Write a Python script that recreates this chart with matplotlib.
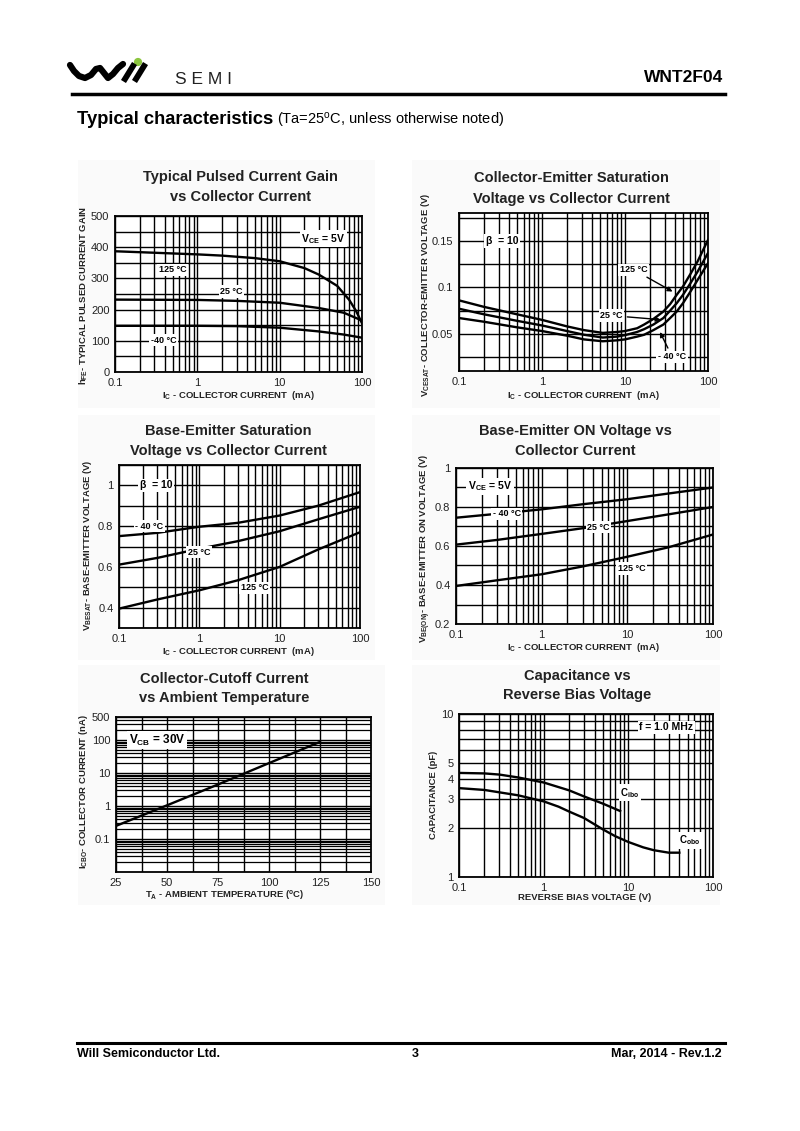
import numpy as np
import matplotlib
matplotlib.use("Agg")
import matplotlib.pyplot as plt
from matplotlib.ticker import LogLocator, NullFormatter, FuncFormatter, MultipleLocator, FixedLocator
from matplotlib.patches import Rectangle, Circle

plt.rcParams['font.family'] = ['Liberation Sans', 'DejaVu Sans']
plt.rcParams['mathtext.fontset'] = 'custom'
plt.rcParams['mathtext.rm'] = 'Liberation Sans'
plt.rcParams['mathtext.default'] = 'regular'

W, H = 800, 1131

# ── data ────────────────────────────────────────────────────────────────────
# 1) h_FE vs Ic
hfe_x_125 = [0.1, 0.2, 0.5, 1, 2, 5, 10, 20, 30, 50, 70, 85, 100]
hfe_y_125 = [387, 384, 380, 377, 373, 365, 355, 333, 312, 276, 231, 195, 156]
hfe_x_25 = [0.1, 1, 3, 10, 30, 60, 100]
hfe_y_25 = [232, 231, 228, 222, 205, 190, 165]
hfe_x_m40 = [0.1, 1, 3, 10, 30, 60, 100]
hfe_y_m40 = [148, 148, 147, 142, 130, 120, 110]

# 2) Vce(sat) vs Ic
vce_x = [0.1, 0.2, 0.5, 1, 2, 3.2, 5.4, 8, 10, 14, 17, 22, 29, 35, 42, 50, 62, 75, 100]
vce_125 = [0.086, 0.079, 0.071, 0.065, 0.058, 0.054, 0.051, 0.052, 0.053, 0.056, 0.060,
           0.066, 0.074, 0.082, 0.092, 0.101, 0.115, 0.128, 0.151]
vce_25 = [0.077, 0.071, 0.064, 0.059, 0.053, 0.049, 0.046, 0.047, 0.0486, 0.052, 0.055,
          0.060, 0.067, 0.075, 0.083, 0.092, 0.105, 0.117, 0.137]
vce_m40 = [0.067, 0.063, 0.057, 0.053, 0.048, 0.044, 0.042, 0.043, 0.044, 0.047, 0.049,
           0.054, 0.060, 0.067, 0.074, 0.083, 0.096, 0.108, 0.126]

# 3) Vbe(sat) vs Ic
vbesat_x = [0.1, 0.3, 1, 3, 10, 30, 100]
vbesat_m40 = [0.751, 0.767, 0.797, 0.816, 0.852, 0.900, 0.967]
vbesat_25 = [0.611, 0.644, 0.689, 0.726, 0.775, 0.833, 0.895]
vbesat_125 = [0.395, 0.440, 0.485, 0.534, 0.600, 0.685, 0.770]

# 4) Vbe(on) vs Ic
vbeon_x = [0.1, 0.3, 1, 3, 10, 30, 100]
vbeon_m40 = [0.745, 0.765, 0.788, 0.814, 0.840, 0.869, 0.900]
vbeon_25 = [0.607, 0.631, 0.662, 0.691, 0.728, 0.762, 0.800]
vbeon_125 = [0.395, 0.424, 0.455, 0.495, 0.545, 0.593, 0.659]

# 5) Icbo vs Ta
icbo_t = [25, 50, 75, 100, 125]
icbo_na = [0.25, 1.05, 4.5, 20, 88]

# 6) capacitance vs reverse bias
cibo_v = [0.1, 0.2, 0.3, 0.5, 1, 2, 3, 5, 8]
cibo_pf = [4.35, 4.32, 4.25, 4.08, 3.80, 3.40, 3.12, 2.82, 2.54]
cobo_v = [0.1, 0.2, 0.5, 1, 1.5, 2, 3, 5, 7, 10, 15, 20, 30, 40]
cobo_pf = [3.51, 3.42, 3.17, 2.91, 2.70, 2.52, 2.30, 1.96, 1.78, 1.64, 1.52, 1.46, 1.41, 1.41]

fig = plt.figure(figsize=(W / 100, H / 100), dpi=100)
fig.patch.set_facecolor('white')


def px_axes(l, t, r, b):
    return fig.add_axes([l / W, 1 - b / H, (r - l) / W, (b - t) / H])


def ftext(x, y, s, **kw):
    fig.text(x / W, 1 - y / H, s, **kw)


def panel_bg(l, t, r, b):
    fig.patches.append(Rectangle((l / W, 1 - b / H), (r - l) / W, (b - t) / H,
                                 transform=fig.transFigure, facecolor='#fafafa',
                                 edgecolor='none', zorder=-5))


def logx(ax, lo, hi):
    ax.set_xscale('log')
    ax.set_xlim(lo, hi)
    ax.xaxis.set_major_locator(LogLocator(base=10))
    ax.xaxis.set_minor_locator(LogLocator(base=10, subs=range(2, 10)))
    ax.xaxis.set_minor_formatter(NullFormatter())
    ax.xaxis.set_major_formatter(FuncFormatter(lambda v, p: f'{v:g}'))


def style(ax):
    ax.set_facecolor('white')
    ax.grid(True, which='both', color='black', lw=1.0)
    ax.set_axisbelow(True)
    ax.tick_params(which='both', length=0, labelsize=8, pad=4, colors='#222222')
    for sp in ax.spines.values():
        sp.set_linewidth(1.3)


lbl = dict(fontsize=6.8, fontweight='bold', color='#222222')
tag = dict(fontsize=6.5, fontweight='bold', ha='center', va='center',
           bbox=dict(facecolor='white', edgecolor='none', pad=1.2), zorder=5)
curve = dict(color='black', lw=1.7, zorder=4)
ttl = dict(fontsize=10.5, fontweight='bold', ha='center', va='center', color='#222222')
arrow = dict(arrowstyle='-|>', color='black', lw=1.0, mutation_scale=7)

# panel backgrounds
panel_bg(78, 160, 375, 408)
panel_bg(412, 160, 720, 408)
panel_bg(78, 415, 375, 660)
panel_bg(412, 415, 720, 660)
panel_bg(78, 665, 385, 905)
panel_bg(412, 665, 720, 905)

# ── chart 1 ─────────────────────────────────────────────────────────────────
ax = px_axes(115, 216, 362, 372)
logx(ax, 0.1, 100)
ax.set_ylim(0, 500)
ax.yaxis.set_major_locator(MultipleLocator(100))
ax.yaxis.set_minor_locator(MultipleLocator(50))
style(ax)
ax.plot(hfe_x_125, hfe_y_125, **curve)
ax.plot(hfe_x_25, hfe_y_25, **curve)
ax.plot(hfe_x_m40, hfe_y_m40, **curve)
ax.text(34, 427, 'V$_{CE}$ = 5V', **{**tag, 'fontsize': 7.5})
ax.text(0.5, 328, '125 °C', **tag)
ax.text(2.6, 258, '25 °C', **tag)
ax.text(0.39, 102, '-40 °C', **tag)
ftext(240, 177, 'Typical Pulsed Current Gain', **ttl)
ftext(240, 197, 'vs Collector Current', **ttl)
ftext(238, 396, 'I$_{C}$ - COLLECTOR CURRENT  (mA)', ha='center', va='center', **lbl)
ftext(84, 295, 'h$_{FE}$- TYPICAL PULSED CURRENT GAIN', ha='center', va='center', rotation=90, **lbl)

# ── chart 2 ─────────────────────────────────────────────────────────────────
ax = px_axes(459, 213, 708, 371)
logx(ax, 0.1, 100)
ax.set_ylim(0.01, 0.18)
ax.yaxis.set_major_locator(FixedLocator([0.05, 0.1, 0.15]))
ax.yaxis.set_minor_locator(MultipleLocator(0.025))
ax.yaxis.set_major_formatter(FuncFormatter(lambda v, p: f'{v:g}'))
style(ax)
ax.plot(vce_x, vce_125, **curve)
ax.plot(vce_x, vce_25, **curve)
ax.plot(vce_x, vce_m40, **curve)
ax.text(0.33, 0.150, 'β  = 10', **{**tag, 'fontsize': 7.5})
ax.annotate('125 °C', xy=(40, 0.094), xytext=(12.7, 0.119), arrowprops=arrow, **tag)
ax.annotate('25 °C', xy=(29, 0.065), xytext=(6.9, 0.0696), arrowprops=arrow, **tag)
ax.annotate('- 40 °C', xy=(25.5, 0.0546), xytext=(37, 0.0254), arrowprops=arrow, **tag)
ftext(571, 178, 'Collector-Emitter Saturation', **ttl)
ftext(571, 199, 'Voltage vs Collector Current', **ttl)
ftext(583, 395, 'I$_{C}$ - COLLECTOR CURRENT  (mA)', ha='center', va='center', **lbl)
ftext(425, 295, 'V$_{CESAT}$- COLLECTOR-EMITTER VOLTAGE (V)', ha='center', va='center', rotation=90, **lbl)

# ── chart 3 ─────────────────────────────────────────────────────────────────
ax = px_axes(119, 465, 360, 628)
logx(ax, 0.1, 100)
ax.set_ylim(0.3, 1.1)
ax.yaxis.set_major_locator(FixedLocator([0.4, 0.6, 0.8, 1.0]))
ax.yaxis.set_minor_locator(FixedLocator([0.3, 0.5, 0.7, 0.9, 1.1]))
ax.yaxis.set_major_formatter(FuncFormatter(lambda v, p: f'{v:g}'))
style(ax)
ax.plot(vbesat_x, vbesat_m40, **curve)
ax.plot(vbesat_x, vbesat_25, **curve)
ax.plot(vbesat_x, vbesat_125, **curve)
ax.text(0.29, 1.0, 'β  = 10', **{**tag, 'fontsize': 7.5})
ax.text(0.24, 0.80, '- 40 °C', **tag)
ax.text(1.0, 0.672, '25 °C', **tag)
ax.text(4.9, 0.497, '125 °C', **tag)
ftext(228, 431, 'Base-Emitter Saturation', **ttl)
ftext(228, 451, 'Voltage vs Collector Current', **ttl)
ftext(238, 651, 'I$_{C}$ - COLLECTOR CURRENT  (mA)', ha='center', va='center', **lbl)
ftext(88, 545, 'V$_{BESAT}$- BASE-EMITTER VOLTAGE (V)', ha='center', va='center', rotation=90, **lbl)

# ── chart 4 ─────────────────────────────────────────────────────────────────
ax = px_axes(456, 468, 713, 624)
logx(ax, 0.1, 100)
ax.set_ylim(0.2, 1.0)
ax.yaxis.set_major_locator(FixedLocator([0.2, 0.4, 0.6, 0.8, 1.0]))
ax.yaxis.set_minor_locator(FixedLocator([0.3, 0.5, 0.7, 0.9]))
ax.yaxis.set_major_formatter(FuncFormatter(lambda v, p: f'{v:g}'))
style(ax)
ax.plot(vbeon_x, vbeon_m40, **curve)
ax.plot(vbeon_x, vbeon_25, **curve)
ax.plot(vbeon_x, vbeon_125, **curve)
ax.text(0.25, 0.907, 'V$_{CE}$ = 5V', **{**tag, 'fontsize': 7.5})
ax.text(0.39, 0.766, '- 40 °C', **tag)
ax.text(4.6, 0.697, '25 °C', **tag)
ax.text(11.3, 0.484, '125 °C', **tag)
ftext(575, 431, 'Base-Emitter ON Voltage vs', **ttl)
ftext(575, 451, 'Collector Current', **ttl)
ftext(583, 648, 'I$_{C}$ - COLLECTOR CURRENT  (mA)', ha='center', va='center', **lbl)
ftext(425, 548, 'V$_{BE(ON)}$- BASE-EMITTER ON VOLTAGE (V)', ha='center', va='center', rotation=90, **lbl)

# ── chart 5 ─────────────────────────────────────────────────────────────────
ax = px_axes(116, 717, 371, 872)
ax.set_yscale('log')
ax.set_xlim(25, 150)
ax.set_ylim(0.01, 500)
ax.xaxis.set_major_locator(MultipleLocator(25))
ax.xaxis.set_minor_locator(MultipleLocator(12.5))
ax.yaxis.set_major_locator(FixedLocator([0.1, 1, 10, 100, 500]))
ax.yaxis.set_minor_locator(LogLocator(base=10, subs=range(2, 10)))
ax.yaxis.set_minor_formatter(NullFormatter())
ax.yaxis.set_major_formatter(FuncFormatter(lambda v, p: f'{v:g}'))
style(ax)
ax.grid(True, which='minor', axis='y', color='black', lw=0.9)
ax.plot(icbo_t, icbo_na, **curve)
ax.text(45, 100, 'V$_{CB}$ = 30V', **{**tag, 'fontsize': 8.5})
ftext(224, 679, 'Collector-Cutoff Current', **ttl)
ftext(224, 698, 'vs Ambient Temperature', **ttl)
ftext(225, 895, 'T$_{A}$ - AMBIENT TEMPERATURE ($^{o}$C)', ha='center', va='center', **lbl)
ftext(84, 792, 'I$_{CBO}$- COLLECTOR CURRENT (nA)', ha='center', va='center', rotation=90, **lbl)

# ── chart 6 ─────────────────────────────────────────────────────────────────
ax = px_axes(459, 714, 713, 877)
logx(ax, 0.1, 100)
ax.set_yscale('log')
ax.set_ylim(1, 10)
ax.yaxis.set_major_locator(FixedLocator([1, 2, 3, 4, 5, 10]))
ax.yaxis.set_minor_locator(FixedLocator([6, 7, 8, 9]))
ax.yaxis.set_minor_formatter(NullFormatter())
ax.yaxis.set_major_formatter(FuncFormatter(lambda v, p: f'{v:g}'))
style(ax)
ax.plot(cibo_v, cibo_pf, **curve)
ax.plot(cobo_v, cobo_pf, **curve)
ax.text(10.4, 3.29, 'C$_{ibo}$', **{**tag, 'fontsize': 7})
ax.text(53, 1.68, 'C$_{obo}$', **{**tag, 'fontsize': 7})
ax.text(28, 8.3, 'f = 1.0 MHz', **{**tag, 'fontsize': 7.5})
ftext(577, 676, 'Capacitance vs', **ttl)
ftext(577, 695, 'Reverse Bias Voltage', **ttl)
ftext(585, 898, 'REVERSE BIAS VOLTAGE (V)', ha='center', va='center', **lbl)
ftext(433, 795, 'CAPACITANCE (pF)', ha='center', va='center', rotation=90, **lbl)

# ── page header / footer ────────────────────────────────────────────────────
page = fig.add_axes([0, 0, 1, 1], zorder=-10)
page.set_xlim(0, W)
page.set_ylim(H, 0)
page.axis('off')
page.patch.set_alpha(0)

# logo
wave_x = [70, 74, 79, 85, 91, 96, 100, 104, 108, 113, 118, 123]
wave_y = [65, 71, 76, 78, 75, 69, 68, 73, 78, 74, 68, 64]
page.plot(wave_x, wave_y, color='black', lw=4.5, solid_capstyle='round', solid_joinstyle='round')
page.plot([125, 133], [79, 66], color='black', lw=4.2)
page.plot([136, 144], [79, 66], color='black', lw=4.2)
page.add_patch(Circle((138, 62), 3.4, color='#8cc63f'))
page.text(175, 80, 'S E M I', fontsize=12.5, ha='left', va='center', color='#222222')
page.text(723, 78, 'WNT2F04', fontsize=12.5, fontweight='bold', ha='right', va='center')
page.plot([72, 725], [94, 94], color='black', lw=2.5)

page.text(77, 119, 'Typical characteristics', fontsize=13.2, fontweight='bold', ha='left', va='center')
page.text(277, 120, '(Ta=25$^{o}$C, unless otherwise noted)', fontsize=10.5, ha='left', va='center')

page.plot([77, 725], [1043, 1043], color='black', lw=2.2)
page.text(77, 1054, 'Will Semiconductor Ltd.', fontsize=9, fontweight='bold', ha='left', va='center')
page.text(415, 1054, '3', fontsize=9, fontweight='bold', ha='center', va='center')
page.text(722, 1054, 'Mar, 2014 - Rev.1.2', fontsize=9, fontweight='bold', ha='right', va='center')

fig.savefig('out.png', dpi=100)
